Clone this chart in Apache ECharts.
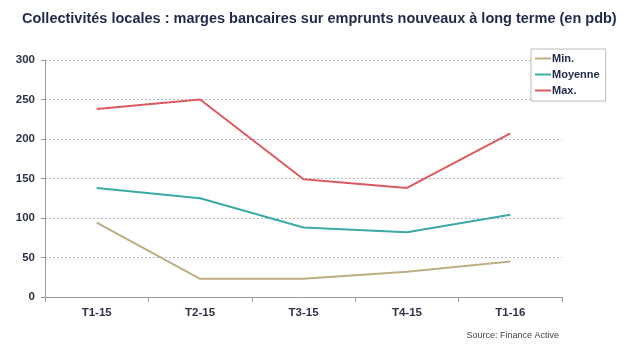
<!DOCTYPE html>
<html><head><meta charset="utf-8">
<script src="https://cdn.jsdelivr.net/npm/echarts@6/dist/echarts.min.js"></script>
<style>html,body{margin:0;padding:0;background:#fff}#c{width:640px;height:346px}</style>
</head><body><div id="c"></div>
<script>
const categories = ['T1-15','T2-15','T3-15','T4-15','T1-16'];
const minVals = [94, 23, 23, 32, 45];
const moyVals = [138, 125, 88, 82, 104];
const maxVals = [238, 250, 149, 138, 207];
const yTicks = [0, 50, 100, 150, 200, 250, 300];

const chart = echarts.init(document.getElementById('c'), null, {renderer:'canvas'});
const ff = 'Liberation Sans, Arial, sans-serif';
chart.setOption({
  animation:false,
  backgroundColor:'#fff',
  title:[{text:'Collectivités locales : marges bancaires sur emprunts nouveaux à long terme (en pdb)',left:17,top:6,
    textStyle:{fontFamily:ff,fontSize:14.5,fontWeight:'bold',color:'#1f2a4a'}},
    {text:'Source: Finance Active',right:76,top:326,textStyle:{fontFamily:ff,fontSize:9,fontWeight:'normal',color:'#444'}}],
  legend:{orient:'vertical',left:531,top:49,itemWidth:16,itemHeight:2,itemGap:5,icon:'rect',
    borderColor:'#bbb',borderWidth:1,padding:[4,6,5,4],backgroundColor:'#fff',
    textStyle:{fontFamily:ff,fontSize:11,fontWeight:'bold',color:'#1f2a4a',padding:[0,0,0,-4]},
    data:['Min.','Moyenne','Max.']},
  grid:{left:45,right:78,top:60,bottom:49},
  xAxis:{type:'category',data:categories,boundaryGap:true,
    axisLine:{lineStyle:{color:'#999'}},axisTick:{show:true,lineStyle:{color:'#999'}},
    axisLabel:{fontFamily:ff,fontSize:11.5,fontWeight:'bold',color:'#2b3245',margin:10}},
  yAxis:{type:'value',min:0,max:300,interval:50,
    axisLine:{show:true,lineStyle:{color:'#999'}},axisTick:{show:true,lineStyle:{color:'#999'},length:4},
    axisLabel:{fontFamily:ff,fontSize:11.5,fontWeight:'bold',color:'#2b3245',margin:10,
      formatter:v=>yTicks.includes(v)?String(v):''},
    splitLine:{lineStyle:{color:'#b5b5b5',type:[2,2],width:1}}},
  series:[
    {name:'Min.',type:'line',data:minVals,symbol:'none',lineStyle:{width:2,color:'#bfae84'},itemStyle:{color:'#bfae84'}},
    {name:'Moyenne',type:'line',data:moyVals,symbol:'none',lineStyle:{width:2,color:'#3aaaa6'},itemStyle:{color:'#3aaaa6'}},
    {name:'Max.',type:'line',data:maxVals,symbol:'none',lineStyle:{width:2,color:'#dd5a5e'},itemStyle:{color:'#dd5a5e'}}
  ]
});
</script></body></html>
